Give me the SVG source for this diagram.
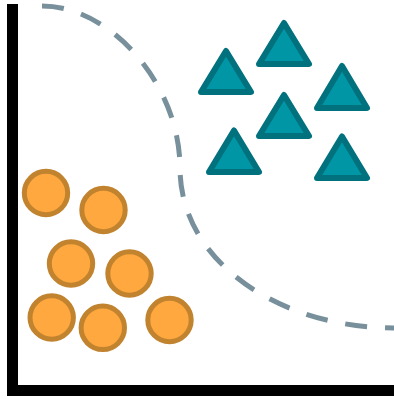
<svg xmlns="http://www.w3.org/2000/svg" width="394" height="399" viewBox="0 0 394 399">
<style>
.c{fill:#ffa83f;stroke:#c2832f;stroke-width:5}
.t{fill:#0096a6;stroke:#01717d;stroke-width:6;stroke-linejoin:round}
.b{fill:none;stroke:#78909c;stroke-width:5;stroke-dasharray:22 18}
.ax{fill:none;stroke:#000;stroke-width:11;stroke-linejoin:miter}
</style>
<rect width="394" height="399" fill="#fff"/>
<g id="boundary"><path class="b" d="M42,6 C112,6 180,86 180,168 C180,262 280,328 394,328"/></g>
<g id="triangles">
<path class="t" d="M226,51 L251,92 L201,92 Z"/>
<path class="t" d="M284,23 L309,64 L259,64 Z"/>
<path class="t" d="M342,66 L367,108 L317,108 Z"/>
<path class="t" d="M284,95 L309,136 L259,136 Z"/>
<path class="t" d="M234,130.5 L259,172 L209,172 Z"/>
<path class="t" d="M342,136.5 L367,178 L317,178 Z"/>
</g>
<g id="circles">
<circle class="c" cx="46" cy="193" r="21.7"/>
<circle class="c" cx="103.5" cy="210" r="21.7"/>
<circle class="c" cx="71" cy="263.5" r="21.7"/>
<circle class="c" cx="129.5" cy="273.5" r="21.7"/>
<circle class="c" cx="51.7" cy="317.5" r="21.7"/>
<circle class="c" cx="102.8" cy="327.8" r="21.7"/>
<circle class="c" cx="169.5" cy="320" r="21.7"/>
</g>
<g id="axes"><path class="ax" d="M12.5,4 V390.5 H394"/></g>
</svg>
